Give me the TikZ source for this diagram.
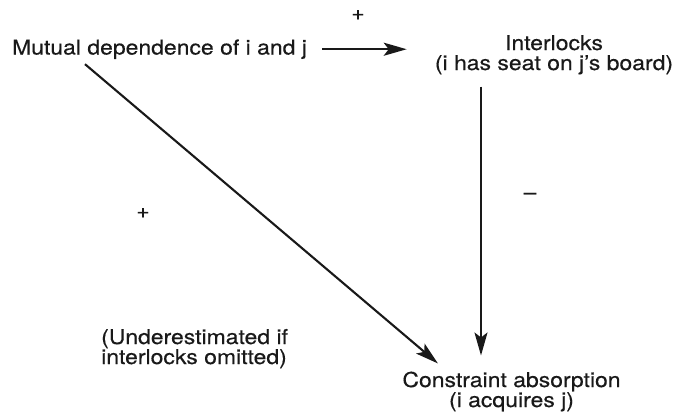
\documentclass[tikz,border=0pt]{standalone}
\usepackage{fontspec}
\setmainfont{TeX Gyre Heros}[FakeStretch=1.12,FakeBold=0.4]
\usetikzlibrary{arrows.meta,calc}
\tikzset{
  lbl/.style={inner sep=0pt, font=\fontsize{20.5}{20}\selectfont, text=black!90},
  arr/.style={line width=2.1pt, draw=black!90, -{Stealth[length=23pt,width=13pt,inset=5pt]}},
}
\begin{document}
\begin{tikzpicture}[x=1pt,y=-1pt]
\useasboundingbox (0,0) rectangle (678,415);
\node[lbl, anchor=base] (mut) at (159.5,54.5) {Mutual dependence of i and j};
\node[lbl, anchor=base, align=center] (int) at (554,70) {Interlocks\\(i has seat on j’s board)};
\node[lbl, anchor=base, align=center] (con) at (511.5,407) {Constraint absorption\\(i acquires j)};
\node[lbl, anchor=base west, align=left] (und) at (101,364) {(Underestimated if\\interlocks omitted)};
\node[lbl] (p1) at (358,15) {+};
\node[lbl] (p2) at (143,213) {+};
\node[lbl] (m1) at (530,196) {–};
\draw[arr] ($(mut.east)+(15,0)$) -- ($(mut.east -| int.west)+(-28,0)$);
\draw[arr] ($(int.south)+(-73,12)$) -- ($(con.north)+(-30.5,-16)$);
\draw[arr] ($(mut.south)+(-74.5,5)$) -- ($(con.north)+(-73.5,-8)$);
\end{tikzpicture}
\end{document}
